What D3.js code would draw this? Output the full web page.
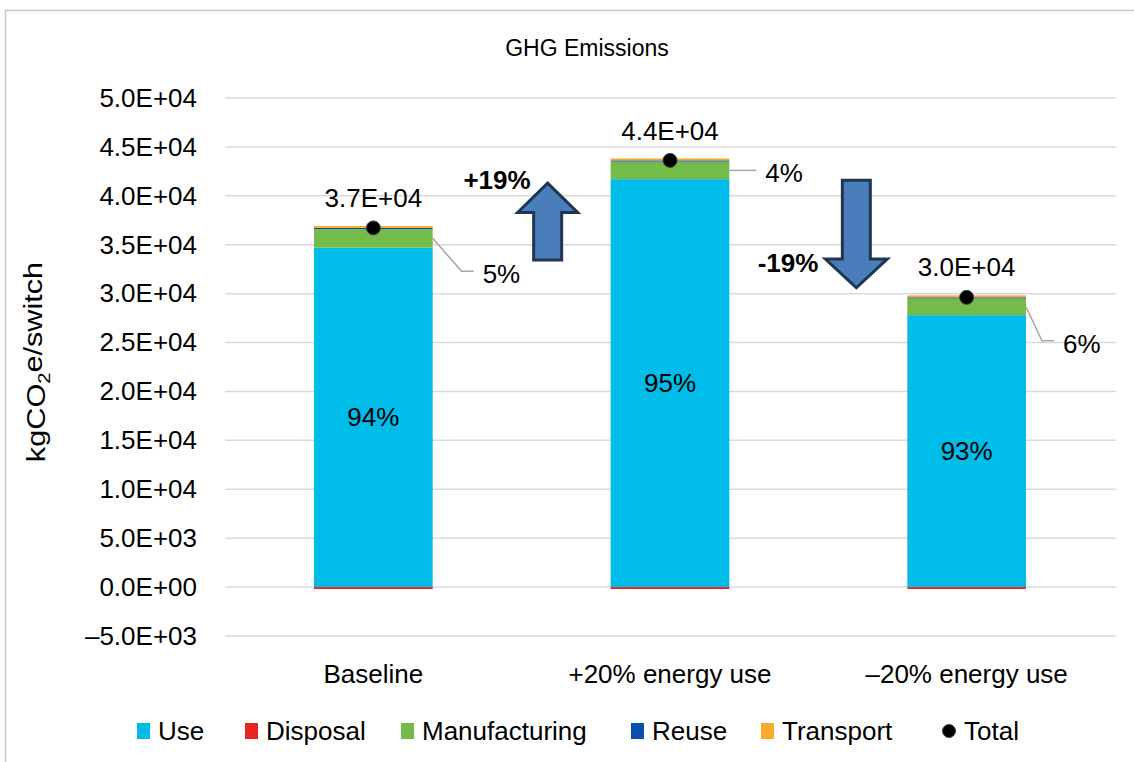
<!DOCTYPE html>
<html>
<head>
<meta charset="utf-8">
<script src="https://cdn.jsdelivr.net/npm/d3@7"></script>
<style>
  body { margin: 0; background: #fff; }
  svg { display: block; font-family: "Liberation Sans", Arial, sans-serif; }
</style>
</head>
<body>
<svg id="chart" width="1134" height="762"></svg>
<script>
// data
var categories = ["Baseline", "+20% energy use", "\u201320% energy use"];
var seriesNames = ["Use", "Disposal", "Manufacturing", "Reuse", "Transport"];
var useVals = [34700, 41700, 27800];
var disposalVals = [-200, -200, -200];
var manufacturingVals = [1900, 1800, 1700];
var reuseVals = [120, 120, 120];
var transportVals = [200, 200, 200];
var yTicks = [-5000, 0, 5000, 10000, 15000, 20000, 25000, 30000, 35000, 40000, 45000, 50000];

var colors = {
  Use: "#00bce8",
  Disposal: "#e6261f",
  Manufacturing: "#74bb4a",
  Reuse: "#0b4fae",
  Transport: "#f8aa2d"
};

var svg = d3.select("#chart");

// outer frame (only left/top visible in the picture)
svg.append("rect")
  .attr("x", 5.5).attr("y", 10.5)
  .attr("width", 1140).attr("height", 760)
  .attr("fill", "none")
  .attr("stroke", "#c8c8c8")
  .attr("stroke-width", 1.5);

var rows = categories.map(function (c, i) {
  return {
    cat: c,
    Use: useVals[i],
    Disposal: disposalVals[i],
    Manufacturing: manufacturingVals[i],
    Reuse: reuseVals[i],
    Transport: transportVals[i]
  };
});
rows.forEach(function (r) {
  r.total = seriesNames.reduce(function (s, k) { return s + r[k]; }, 0);
  r.gross = seriesNames.reduce(function (s, k) { return s + Math.max(0, r[k]); }, 0);
});

var x = d3.scaleBand()
  .domain(categories)
  .range([225, 1115])
  .paddingInner(0.6)
  .paddingOuter(0.3);

var y = d3.scaleLinear()
  .domain([-5000, 50000])
  .range([636, 98]);

function sci(v) {
  var s = Math.abs(v).toExponential(1).split("e");
  var e = parseInt(s[1], 10);
  var es = (e < 0 ? "-" : "+") + (Math.abs(e) < 10 ? "0" : "") + Math.abs(e);
  return (v < 0 ? "\u2013" : "") + s[0] + "E" + es;
}

// gridlines
svg.append("g")
  .selectAll("line")
  .data(yTicks)
  .join("line")
  .attr("x1", 225).attr("x2", 1116)
  .attr("y1", function (d) { return y(d); })
  .attr("y2", function (d) { return y(d); })
  .attr("stroke", "#d9d9d9")
  .attr("stroke-width", 1.5);

// y axis labels
var yAxis = d3.axisLeft(y).tickValues(yTicks).tickFormat(sci).tickSize(0).tickPadding(0);
var yg = svg.append("g").attr("transform", "translate(197,0)").call(yAxis);
yg.select(".domain").remove();
yg.selectAll("text")
  .attr("font-size", 26)
  .attr("fill", "#000")
  .attr("font-family", "Liberation Sans, Arial, sans-serif");

// stacked bars
var stack = d3.stack().keys(seriesNames).offset(d3.stackOffsetDiverging);
var layers = stack(rows);

svg.append("g")
  .selectAll("g")
  .data(layers)
  .join("g")
  .attr("fill", function (d) { return colors[d.key]; })
  .selectAll("rect")
  .data(function (d) { return d; })
  .join("rect")
  .attr("x", function (d) { return x(d.data.cat); })
  .attr("width", x.bandwidth())
  .attr("y", function (d) { return y(d[1]); })
  .attr("height", function (d) { return Math.max(1, y(d[0]) - y(d[1])); });

// percentage inside the Use segment
svg.append("g")
  .selectAll("text")
  .data(rows)
  .join("text")
  .attr("x", function (d) { return x(d.cat) + x.bandwidth() / 2; })
  .attr("y", function (d) { return y(d.Use / 2); })
  .attr("dy", "0.35em")
  .attr("text-anchor", "middle")
  .attr("font-size", 26)
  .text(function (d) { return Math.round(d.Use / d.gross * 100) + "%"; });

// manufacturing labels with leader lines
var leader = [[29, 33], [27, 0], [16, 34]];
var mg = svg.append("g");
rows.forEach(function (d, i) {
  var x0 = x(d.cat) + x.bandwidth();
  var y0 = y(d.Use + d.Manufacturing / 2);
  var x1 = x0 + leader[i][0];
  var y1 = y0 + leader[i][1];
  var pts = leader[i][1] === 0 ? [[x0, y0], [x1, y1]] : [[x0, y0], [x1, y1], [x1 + 12, y1]];
  mg.append("path")
    .attr("d", d3.line()(pts))
    .attr("fill", "none")
    .attr("stroke", "#a6a6a6")
    .attr("stroke-width", 1.5);
  mg.append("text")
    .attr("x", pts[pts.length - 1][0] + 9)
    .attr("y", y1 + 3)
    .attr("dy", "0.35em")
    .attr("font-size", 26)
    .text(Math.round(d.Manufacturing / d.gross * 100) + "%");
});

// total markers + labels
var tg = svg.append("g");
tg.selectAll("circle")
  .data(rows)
  .join("circle")
  .attr("cx", function (d) { return x(d.cat) + x.bandwidth() / 2; })
  .attr("cy", function (d) { return y(d.total); })
  .attr("r", 7)
  .attr("fill", "#000")
  .attr("stroke", "#404040")
  .attr("stroke-width", 1);
tg.selectAll("text")
  .data(rows)
  .join("text")
  .attr("x", function (d) { return x(d.cat) + x.bandwidth() / 2; })
  .attr("y", function (d) { return y(d.total) - 30; })
  .attr("dy", "0.35em")
  .attr("text-anchor", "middle")
  .attr("font-size", 26)
  .text(function (d) { return sci(d.total); });

// change arrows
function arrowPath(cx, yTail, yHeadBase, yTip, hw, sw) {
  return d3.line()([
    [cx - sw, yTail], [cx - sw, yHeadBase], [cx - hw, yHeadBase], [cx, yTip],
    [cx + hw, yHeadBase], [cx + sw, yHeadBase], [cx + sw, yTail]
  ]) + "Z";
}
var base = rows[0].total;
var ag = svg.append("g");
// up arrow, between bar 1 and bar 2
var upX = x(categories[1]) - 63;
ag.append("path")
  .attr("d", arrowPath(upX, y(33450), y(38300), y(41300), 30, 14))
  .attr("fill", "#4a7ebb").attr("stroke", "#1f3653").attr("stroke-width", 3)
  .attr("stroke-linejoin", "miter");
ag.append("text")
  .attr("x", upX - 17).attr("y", y(41650))
  .attr("dy", "0.35em")
  .attr("text-anchor", "end")
  .attr("font-size", 26).attr("font-weight", "bold")
  .text("+" + Math.round((rows[1].total - base) / base * 100) + "%");
// down arrow, between bar 2 and bar 3
var dnX = x(categories[2]) - 51;
ag.append("path")
  .attr("d", arrowPath(dnX, y(41600), y(33550), y(30600), 31, 14))
  .attr("fill", "#4a7ebb").attr("stroke", "#1f3653").attr("stroke-width", 3)
  .attr("stroke-linejoin", "miter");
ag.append("text")
  .attr("x", dnX - 38).attr("y", y(33150))
  .attr("dy", "0.35em")
  .attr("text-anchor", "end")
  .attr("font-size", 26).attr("font-weight", "bold")
  .text(Math.round((rows[2].total - base) / base * 100) + "%");

// category labels
svg.append("g")
  .selectAll("text")
  .data(categories)
  .join("text")
  .attr("x", function (d) { return x(d) + x.bandwidth() / 2; })
  .attr("y", 674)
  .attr("dy", "0.35em")
  .attr("text-anchor", "middle")
  .attr("font-size", 26)
  .text(function (d) { return d; });

// title
svg.append("text")
  .attr("x", 587).attr("y", 48)
  .attr("dy", "0.35em")
  .attr("text-anchor", "middle")
  .attr("font-size", 23)
  .text("GHG Emissions");

// y axis title
var yt = svg.append("text")
  .attr("transform", "translate(36,362) rotate(-90) scale(1.18,1)")
  .attr("text-anchor", "middle")
  .attr("dy", "0.35em")
  .attr("font-size", 26);
yt.append("tspan").text("kgCO");
yt.append("tspan").attr("font-size", 17).attr("dy", "0.3em").text("2");
yt.append("tspan").attr("dy", "-0.3em").text("e/switch");

// legend
var legendItems = seriesNames.concat(["Total"]);
var legendX = [137, 245, 401, 631, 761, 943];
var lg = svg.append("g").attr("transform", "translate(0,731)");
legendItems.forEach(function (name, i) {
  if (name === "Total") {
    lg.append("circle").attr("cx", legendX[i] + 6).attr("cy", 0).attr("r", 6.5)
      .attr("fill", "#000").attr("stroke", "#404040");
  } else {
    lg.append("rect").attr("x", legendX[i]).attr("y", -8)
      .attr("width", 13).attr("height", 16)
      .attr("fill", colors[name]);
  }
  lg.append("text")
    .attr("x", legendX[i] + 21)
    .attr("y", 0)
    .attr("dy", "0.35em")
    .attr("font-size", 26)
    .text(name);
});
</script>
</body>
</html>
